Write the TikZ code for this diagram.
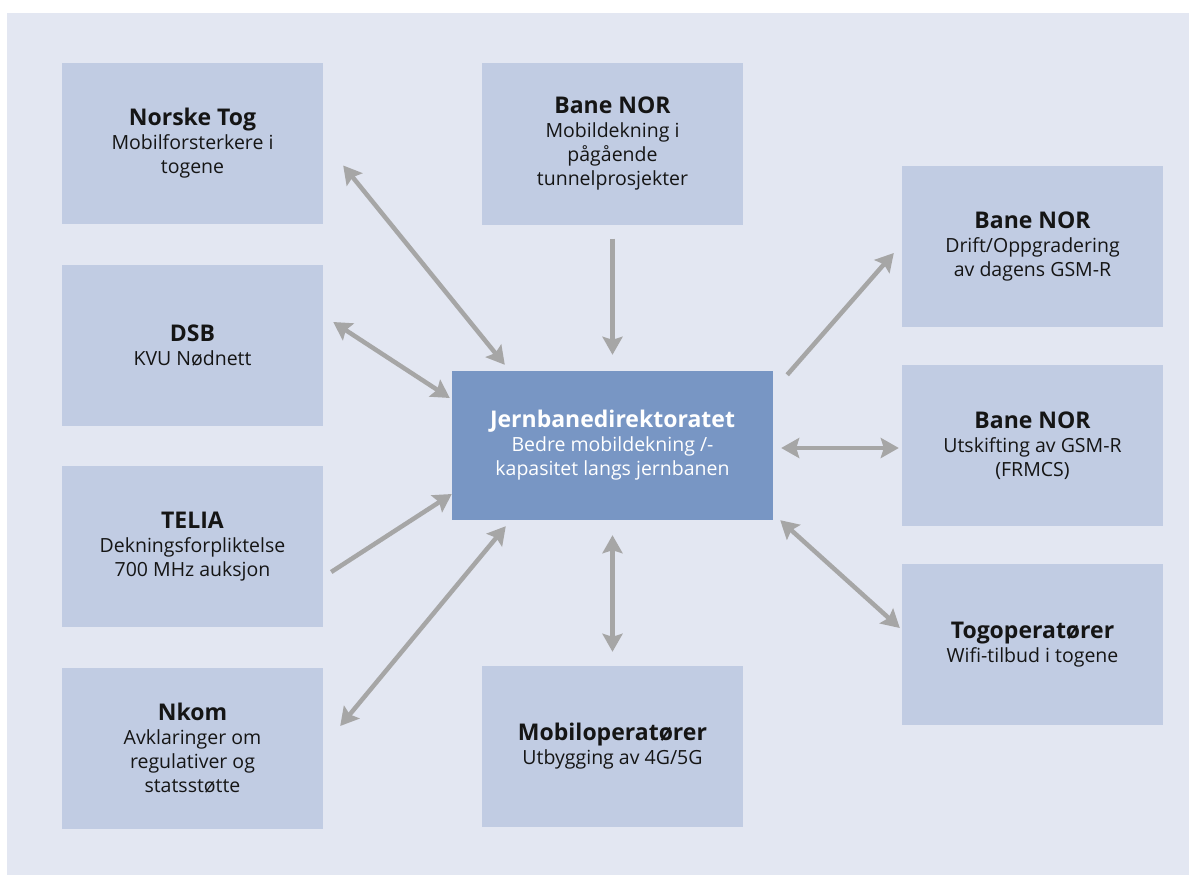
\documentclass[tikz,border=0pt]{standalone}
\usepackage{fontspec}
\setmainfont{Open Sans}
\usetikzlibrary{arrows.meta,calc}
\definecolor{panel}{HTML}{E3E7F2}
\definecolor{boxc}{HTML}{C1CCE3}
\definecolor{centerc}{HTML}{7896C4}
\definecolor{arrowc}{HTML}{A6A6A6}
\definecolor{txt}{HTML}{151515}
\newcommand{\ttl}[1]{{\fontsize{23}{25}\selectfont\bfseries #1}}
\tikzset{
  actor/.style={fill=boxc, draw=none, minimum width=261pt, minimum height=161pt,
    align=center, text=txt, font=\fontsize{19.5}{24}\selectfont, inner sep=0pt},
  hub/.style={fill=centerc, draw=none, minimum width=321pt, minimum height=149pt,
    align=center, text=white, font=\fontsize{19.5}{24}\selectfont, inner sep=0pt},
  link/.style={draw=arrowc, line width=4.5pt, {Stealth[length=18pt,width=20pt,inset=3pt]}-{Stealth[length=18pt,width=20pt,inset=3pt]}},
  onelink/.style={draw=arrowc, line width=4.5pt, -{Stealth[length=18pt,width=20pt,inset=3pt]}}
}
\begin{document}
\begin{tikzpicture}[x=1pt,y=-1pt]
\useasboundingbox (0,0) rectangle (1189,875);
\fill[white] (0,0) rectangle (1189,875);
\fill[panel] (7,13) rectangle (1189,875);
\node[actor] (nt) at (192.5,143.5) {\ttl{Norske Tog}\\Mobilforsterkere i\\togene};
\node[actor] (dsb) at (192.5,345.5) {\ttl{DSB}\\KVU Nødnett};
\node[actor] (telia) at (192.5,546.5) {\ttl{TELIA}\\Dekningsforpliktelse\\700 MHz auksjon};
\node[actor] (nkom) at (192.5,748) {\ttl{Nkom}\\Avklaringer om\\regulativer og\\statsstøtte};
\node[actor] (bnt) at (612.5,144) {\ttl{Bane NOR}\\Mobildekning i\\pågående\\tunnelprosjekter};
\node[hub] (hub) at (612.5,445.5) {\ttl{Jernbanedirektoratet}\\Bedre mobildekning /-\\kapasitet langs jernbanen};
\node[actor] (mob) at (612.5,746.5) {\ttl{Mobiloperatører}\\Utbygging av 4G/5G};
\node[actor] (bn1) at (1032.5,246.5) {\ttl{Bane NOR}\\Drift/Oppgradering\\av dagens GSM-R};
\node[actor] (bn2) at (1032.5,445.5) {\ttl{Bane NOR}\\Utskifting av GSM-R\\(FRMCS)};
\node[actor] (tog) at (1032.5,644.5) {\ttl{Togoperatører}\\Wifi-tilbud i togene};
\draw[link] ($(nt.east)+(20,22)$) -- ($(hub.north west)+(53,-6)$);
\draw[link] ($(dsb.east)+(10,-23.5)$) -- ($(hub.west)+(-2,-47.5)$);
\draw[onelink] ($(bnt.south)+(0,14)$) -- ($(hub.north)+(0,-16)$);
\draw[onelink] ($(telia.east)+(8,25.5)$) -- ($(hub.west)+(0,48.5)$);
\draw[link] ($(nkom.east)+(17,-22)$) -- ($(hub.south west)+(54,6)$);
\draw[link] ($(hub.south)+(0,15)$) -- ($(mob.north)+(0,-14)$);
\draw[onelink] ($(hub.north east)+(14,4)$) -- ($(bn1.west)+(-8,6.5)$);
\draw[link] ($(hub.east)+(8,2.5)$) -- ($(bn2.west)+(-3,2.5)$);
\draw[link] ($(hub.south east)+(7,0)$) -- ($(tog.west)+(-2,-16.5)$);
\end{tikzpicture}
\end{document}
